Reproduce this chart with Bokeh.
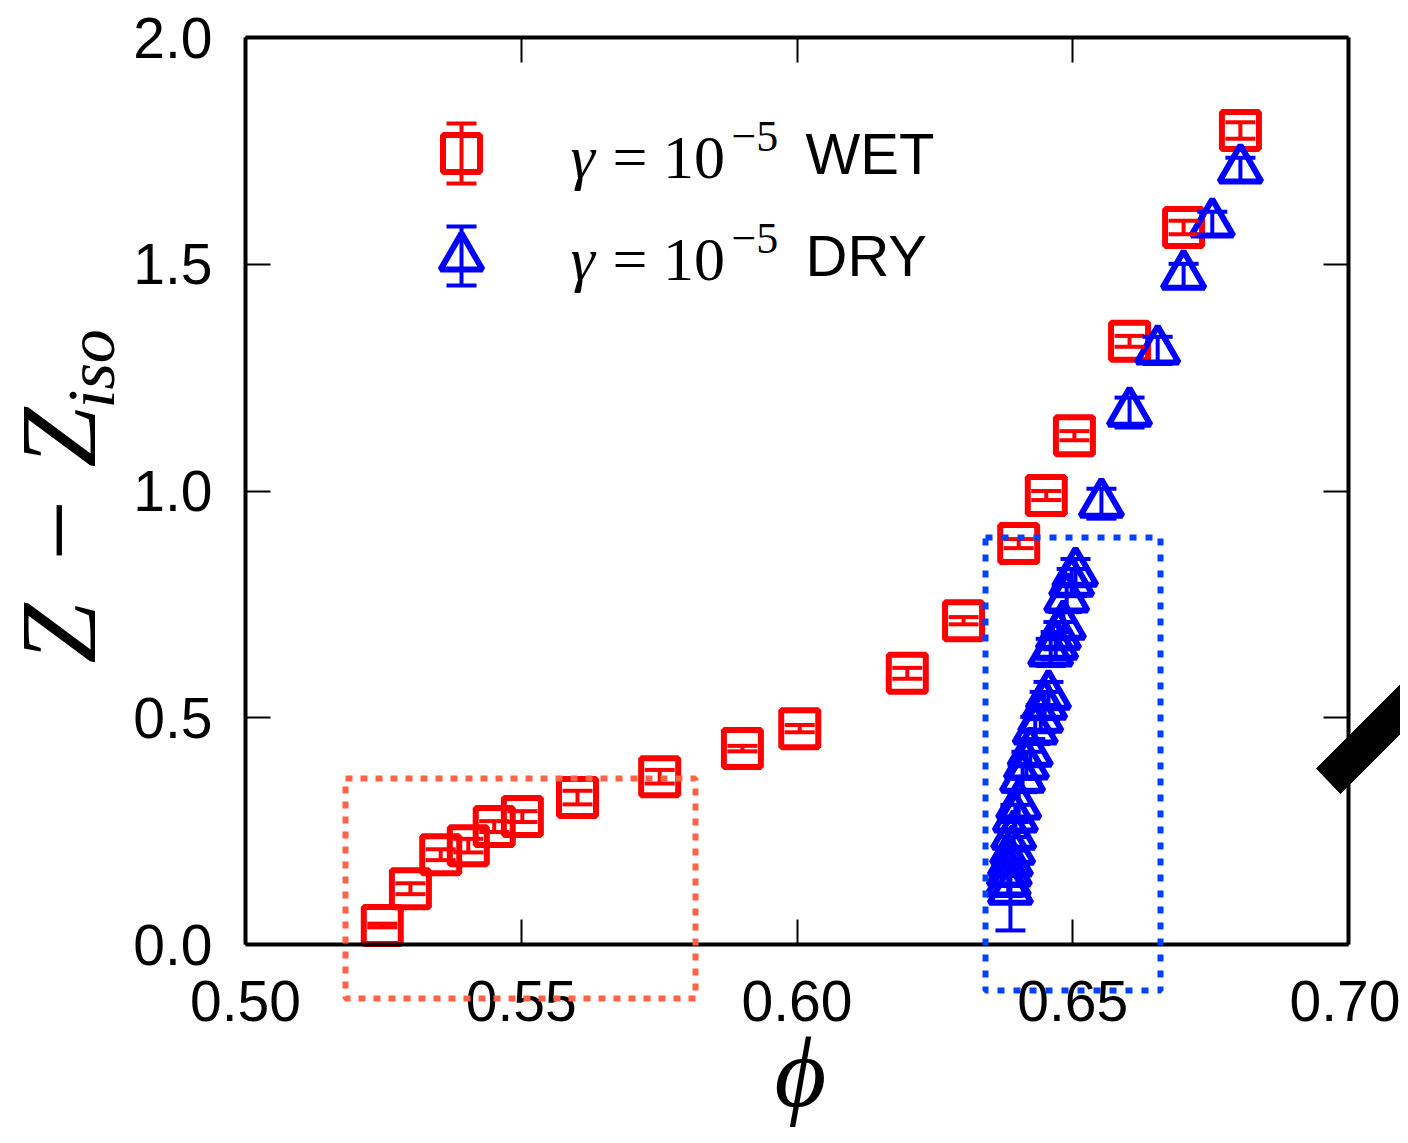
import math
from bokeh.plotting import figure
from bokeh.models import (ColumnDataSource, Whisker, TeeHead, Label, BoxAnnotation,
                          PolyAnnotation, LinearAxis, FixedTicker, Range1d)
from bokeh.embed import file_html
from bokeh.resources import INLINE

# ---------------- data ----------------
wet_phi = [0.5248, 0.5299, 0.5354, 0.5404, 0.5451, 0.5502, 0.5602, 0.5751, 0.5901,
           0.6005, 0.6200, 0.6302, 0.6402, 0.6452, 0.6503, 0.6603, 0.6701, 0.6804]
wet_z = [0.042, 0.123, 0.198, 0.218, 0.260, 0.282, 0.324, 0.370, 0.432,
         0.476, 0.598, 0.714, 0.884, 0.990, 1.122, 1.330, 1.581, 1.795]
wet_err = [0.004, 0.012, 0.012, 0.015, 0.012, 0.012, 0.015, 0.015, 0.006,
           0.008, 0.012, 0.008, 0.010, 0.010, 0.010, 0.012, 0.015, 0.018]

dry_phi = [0.6804, 0.6753, 0.6701, 0.6654, 0.6603, 0.6552,
           0.6505, 0.6498, 0.6489, 0.6483, 0.6474, 0.6469, 0.6460, 0.6456,
           0.6449, 0.6442, 0.6432, 0.6423, 0.6416, 0.6409, 0.6402, 0.6396,
           0.6393, 0.6391, 0.6387, 0.6385, 0.6383, 0.6387]
dry_z = [1.709, 1.590, 1.475, 1.310, 1.173, 0.972,
         0.820, 0.798, 0.763, 0.703, 0.681, 0.659, 0.644, 0.549,
         0.527, 0.498, 0.472, 0.423, 0.395, 0.366, 0.307, 0.278,
         0.240, 0.207, 0.181, 0.159, 0.137, 0.119]
dry_err = [0.026, 0.026, 0.026, 0.030, 0.033, 0.033,
           0.030, 0.030, 0.030, 0.030, 0.030, 0.030, 0.030, 0.030,
           0.030, 0.030, 0.030, 0.030, 0.030, 0.030, 0.030, 0.030,
           0.030, 0.030, 0.030, 0.030, 0.030, 0.088]

x_ticks = [0.50, 0.55, 0.60, 0.65, 0.70]
x_tick_labels = ["0.50", "0.55", "0.60", "0.65", "0.70"]
y_ticks = [0.0, 0.5, 1.0, 1.5, 2.0]
y_tick_labels = ["0.0", "0.5", "1.0", "1.5", "2.0"]

wet_label = ["γ", "= 10", "−5", "WET"]
dry_label = ["γ", "= 10", "−5", "DRY"]
x_title = "ϕ"
y_title = ["Z\u2004−\u2005Z", "iso"]

RED = "#ff0000"
BLUE = "#0000ff"

# ---------------- layout helpers (canvas pixel -> data) ----------------
W, H = 1400, 1135
FL, FR, FT, FB = 245, 1348, 37, 944
def X(px):
    return 0.5 + (px - FL) * 0.2 / (FR - FL)
def Y(py):
    return (FB - py) * 2.0 / (FB - FT)

p = figure(width=W, height=H, x_range=Range1d(X(0), X(W)), y_range=Range1d(Y(H), Y(0)),
           output_backend="svg", toolbar_location=None, min_border=0)
p.grid.visible = False
p.outline_line_color = None
p.background_fill_color = "white"
p.border_fill_color = "white"

def style_axis(ax):
    ax.major_tick_in = 25
    ax.major_tick_out = 0
    ax.minor_tick_line_color = None
    ax.major_tick_line_width = 2
    ax.major_tick_line_color = "black"
    ax.axis_line_width = 4
    ax.axis_line_color = "black"
    ax.major_label_text_font = "Liberation Sans"
    ax.major_label_text_font_size = "57px"
    ax.major_label_text_color = "black"

xa = p.xaxis[0]
style_axis(xa)
xa.ticker = FixedTicker(ticks=x_ticks)
xa.major_label_overrides = {t: l for t, l in zip(x_ticks, x_tick_labels)}
xa.major_label_standoff = 36
xa.fixed_location = 0.0
xa.bounds = (0.5, 0.7)

ya = p.yaxis[0]
style_axis(ya)
ya.ticker = FixedTicker(ticks=y_ticks)
ya.major_label_overrides = {t: l for t, l in zip(y_ticks, y_tick_labels)}
ya.major_label_standoff = 33
ya.fixed_location = 0.5
ya.bounds = (0.0, 2.0)

top_ax = LinearAxis(ticker=FixedTicker(ticks=x_ticks),
                    major_label_overrides={t: "" for t in x_ticks})
style_axis(top_ax)
top_ax.fixed_location = 2.0
top_ax.bounds = (0.5, 0.7)
p.add_layout(top_ax, "above")
right_ax = LinearAxis(ticker=FixedTicker(ticks=y_ticks),
                      major_label_overrides={t: "" for t in y_ticks})
style_axis(right_ax)
right_ax.fixed_location = 0.7
right_ax.bounds = (0.0, 2.0)
p.add_layout(right_ax, "right")

# ---------------- error bars + markers ----------------
src_wet = ColumnDataSource(dict(x=wet_phi, y=wet_z,
                                lo=[z - e for z, e in zip(wet_z, wet_err)],
                                hi=[z + e for z, e in zip(wet_z, wet_err)]))
src_dry = ColumnDataSource(dict(x=dry_phi, y=dry_z,
                                lo=[z - e for z, e in zip(dry_z, dry_err)],
                                hi=[z + e for z, e in zip(dry_z, dry_err)]))

def whisk(src, color):
    return Whisker(source=src, base="x", upper="hi", lower="lo", dimension="height",
                   line_color=color, line_width=4, level="glyph",
                   upper_head=TeeHead(size=30, line_color=color, line_width=4),
                   lower_head=TeeHead(size=30, line_color=color, line_width=4))

p.add_layout(whisk(src_wet, RED))
p.scatter("x", "y", source=src_wet, marker="square", size=37, fill_color=None,
          line_color=RED, line_width=6)
p.add_layout(whisk(src_dry, BLUE))
p.scatter("x", "y", source=src_dry, marker="triangle", size=42, fill_color=None,
          line_color=BLUE, line_width=6)

# ---------------- legend (manual) ----------------
leg_src_wet = ColumnDataSource(dict(x=[X(461)], y=[Y(153)], lo=[Y(183)], hi=[Y(123)]))
leg_src_dry = ColumnDataSource(dict(x=[X(461)], y=[Y(257)], lo=[Y(285)], hi=[Y(226)]))
p.add_layout(whisk(leg_src_wet, RED))
p.scatter("x", "y", source=leg_src_wet, marker="square", size=37, fill_color=None,
          line_color=RED, line_width=6)
p.add_layout(whisk(leg_src_dry, BLUE))
p.scatter("x", "y", source=leg_src_dry, marker="triangle", size=42, fill_color=None,
          line_color=BLUE, line_width=6)

def lab(x, y, text, font="Liberation Serif", size="62px", style="normal",
        align="left", angle=0.0):
    p.add_layout(Label(x=x, y=y, text=text, text_font=font, text_font_style=style,
                       text_font_size=size, text_align=align, text_baseline="middle",
                       text_color="black", angle=angle))

for parts, mid in ((wet_label, 156), (dry_label, 258)):
    lab(X(570), Y(mid), parts[0], style="italic")
    lab(X(612), Y(mid), parts[1])
    lab(X(731), Y(mid - 20), parts[2], size="44px")
    lab(X(805), Y(mid - 3), parts[3], font="Liberation Sans", size="58px")

# ---------------- axis titles ----------------
lab(X(800), Y(1072), x_title, size="100px", style="italic", align="center")
ang = math.pi / 2
lab(X(58), Y(663), y_title[0], size="108px", style="italic", angle=ang)
lab(X(90), Y(408), y_title[1], size="68px", style="italic", angle=ang)

# ---------------- highlight boxes & black bar ----------------
p.add_layout(BoxAnnotation(left=X(345), right=X(695), top=Y(778), bottom=Y(998),
                           fill_color=None, fill_alpha=0, line_color="#ff6347",
                           line_alpha=1.0, line_width=6, line_dash="7 8", level="overlay"))
p.add_layout(BoxAnnotation(left=X(985), right=X(1160), top=Y(537), bottom=Y(990),
                           fill_color=None, fill_alpha=0, line_color="#0040ff",
                           line_alpha=1.0, line_width=6, line_dash="7 9", level="overlay"))
p.add_layout(PolyAnnotation(xs=[X(1316), X(1340), X(1500), X(1476)],
                            ys=[Y(768), Y(793), Y(633), Y(608)],
                            xs_units="data", ys_units="data",
                            fill_color="black", fill_alpha=1.0, line_color="black",
                            line_alpha=1.0, line_width=1, level="overlay"))

open("out.html", "w").write(file_html(p, INLINE))
